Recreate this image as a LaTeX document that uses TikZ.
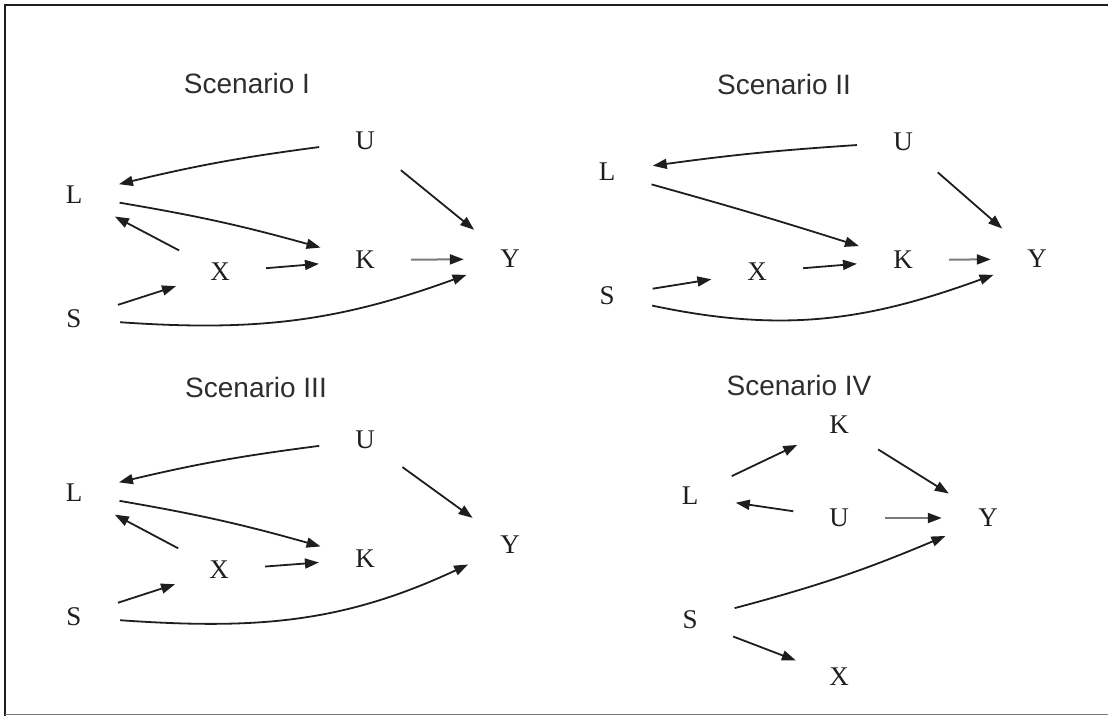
\documentclass[tikz,border=0pt]{standalone}
\usepackage{fontspec}
\setmainfont{Liberation Serif}
\setsansfont{Liberation Sans}
\usetikzlibrary{arrows.meta}
\definecolor{ink}{HTML}{1E1E1E}
\definecolor{titlegray}{HTML}{2E2E2E}
\definecolor{soft}{HTML}{7A7A7A}

\begin{document}
\begin{tikzpicture}[x=1pt, y=1pt,
    every node/.style={font=\fontsize{27}{29}\selectfont, text=ink},
    var/.style={circle, minimum size=92pt, inner sep=0pt},
    ttl/.style={font=\sffamily\fontsize{28}{30}\selectfont, text=titlegray},
    arr/.style={-{Triangle[length=14pt,width=10pt]}, line width=1.8pt, draw=ink},
    garr/.style={-{Triangle[length=14pt,width=10pt,color=ink]}, line width=2pt, draw=soft},
]
    \useasboundingbox (0,0) rectangle (1108,716);
    %% frame
    \draw[line width=2.5pt, ink] (5,0) -- (5,711) -- (1108,711);
    \draw[line width=1.5pt, soft] (5,1.5) -- (1108,1.5);

    %% Scenario I
    \node[ttl] (t1) at (247,633) {Scenario I};
    \node[var] (U1) at (365,575) {U};
    \node[var] (L1) at (74,521) {L};
    \node[var] (X1) at (220,444) {X};
    \node[var] (K1) at (365,456) {K};
    \node[var] (Y1) at (510,457) {Y};
    \node[var] (S1) at (74,397) {S};
    \draw[arr] (U1) to[bend right=3] (L1);
    \draw[arr] (L1) to[bend left=3] (K1);
    \draw[arr] (U1) -- (Y1);
    \draw[arr] (X1) -- (L1);
    \draw[arr] (S1) -- (X1);
    \draw[arr] (X1) -- (K1);
    \draw[garr] (K1) -- (Y1);
    \draw[arr] (S1) to[out=-4, in=200] (Y1);

    %% Scenario II
    \node[ttl] (t2) at (784,632) {Scenario II};
    \node[var] (U2) at (903,574) {U};
    \node[var] (L2) at (607,544) {L};
    \node[var] (X2) at (757,444) {X};
    \node[var] (K2) at (903,456) {K};
    \node[var] (Y2) at (1037,457) {Y};
    \node[var] (S2) at (607,420) {S};
    \draw[arr] (U2) to[bend right=2] (L2);
    \draw[arr] (L2) to[bend left=1] (K2);
    \draw[arr] (U2) -- (Y2);
    \draw[arr] (S2) -- (X2);
    \draw[arr] (X2) -- (K2);
    \draw[garr] (K2) -- (Y2);
    \draw[arr] (S2) to[out=-12, in=200] (Y2);

    %% Scenario III
    \node[ttl] (t3) at (256,329) {Scenario III};
    \node[var] (U3) at (365,276) {U};
    \node[var] (L3) at (74,223) {L};
    \node[var] (X3) at (219,146) {X};
    \node[var] (K3) at (365,157) {K};
    \node[var] (Y3) at (510,171) {Y};
    \node[var] (S3) at (74,99) {S};
    \draw[arr] (U3) to[bend right=3] (L3);
    \draw[arr] (L3) to[bend left=3] (K3);
    \draw[arr] (U3) -- (Y3);
    \draw[arr] (X3) -- (L3);
    \draw[arr] (S3) -- (X3);
    \draw[arr] (X3) -- (K3);
    \draw[arr] (S3) to[out=-4, in=205] (Y3);

    %% Scenario IV
    \node[ttl] (t4) at (799,331) {Scenario IV};
    \node[var] (K4) at (839,291) {K};
    \node[var] (L4) at (690,220) {L};
    \node[var] (U4) at (839,198) {U};
    \node[var] (Y4) at (988,198) {Y};
    \node[var] (S4) at (690,96) {S};
    \node[var] (X4) at (839,39) {X};
    \draw[arr] (L4) -- (K4);
    \draw[arr] (K4) -- (Y4);
    \draw[arr] (U4) -- (L4);
    \draw[garr] (U4) -- (Y4);
    \draw[arr] (S4) to[bend right=4] (Y4);
    \draw[arr] (S4) -- (X4);
\end{tikzpicture}
\end{document}
